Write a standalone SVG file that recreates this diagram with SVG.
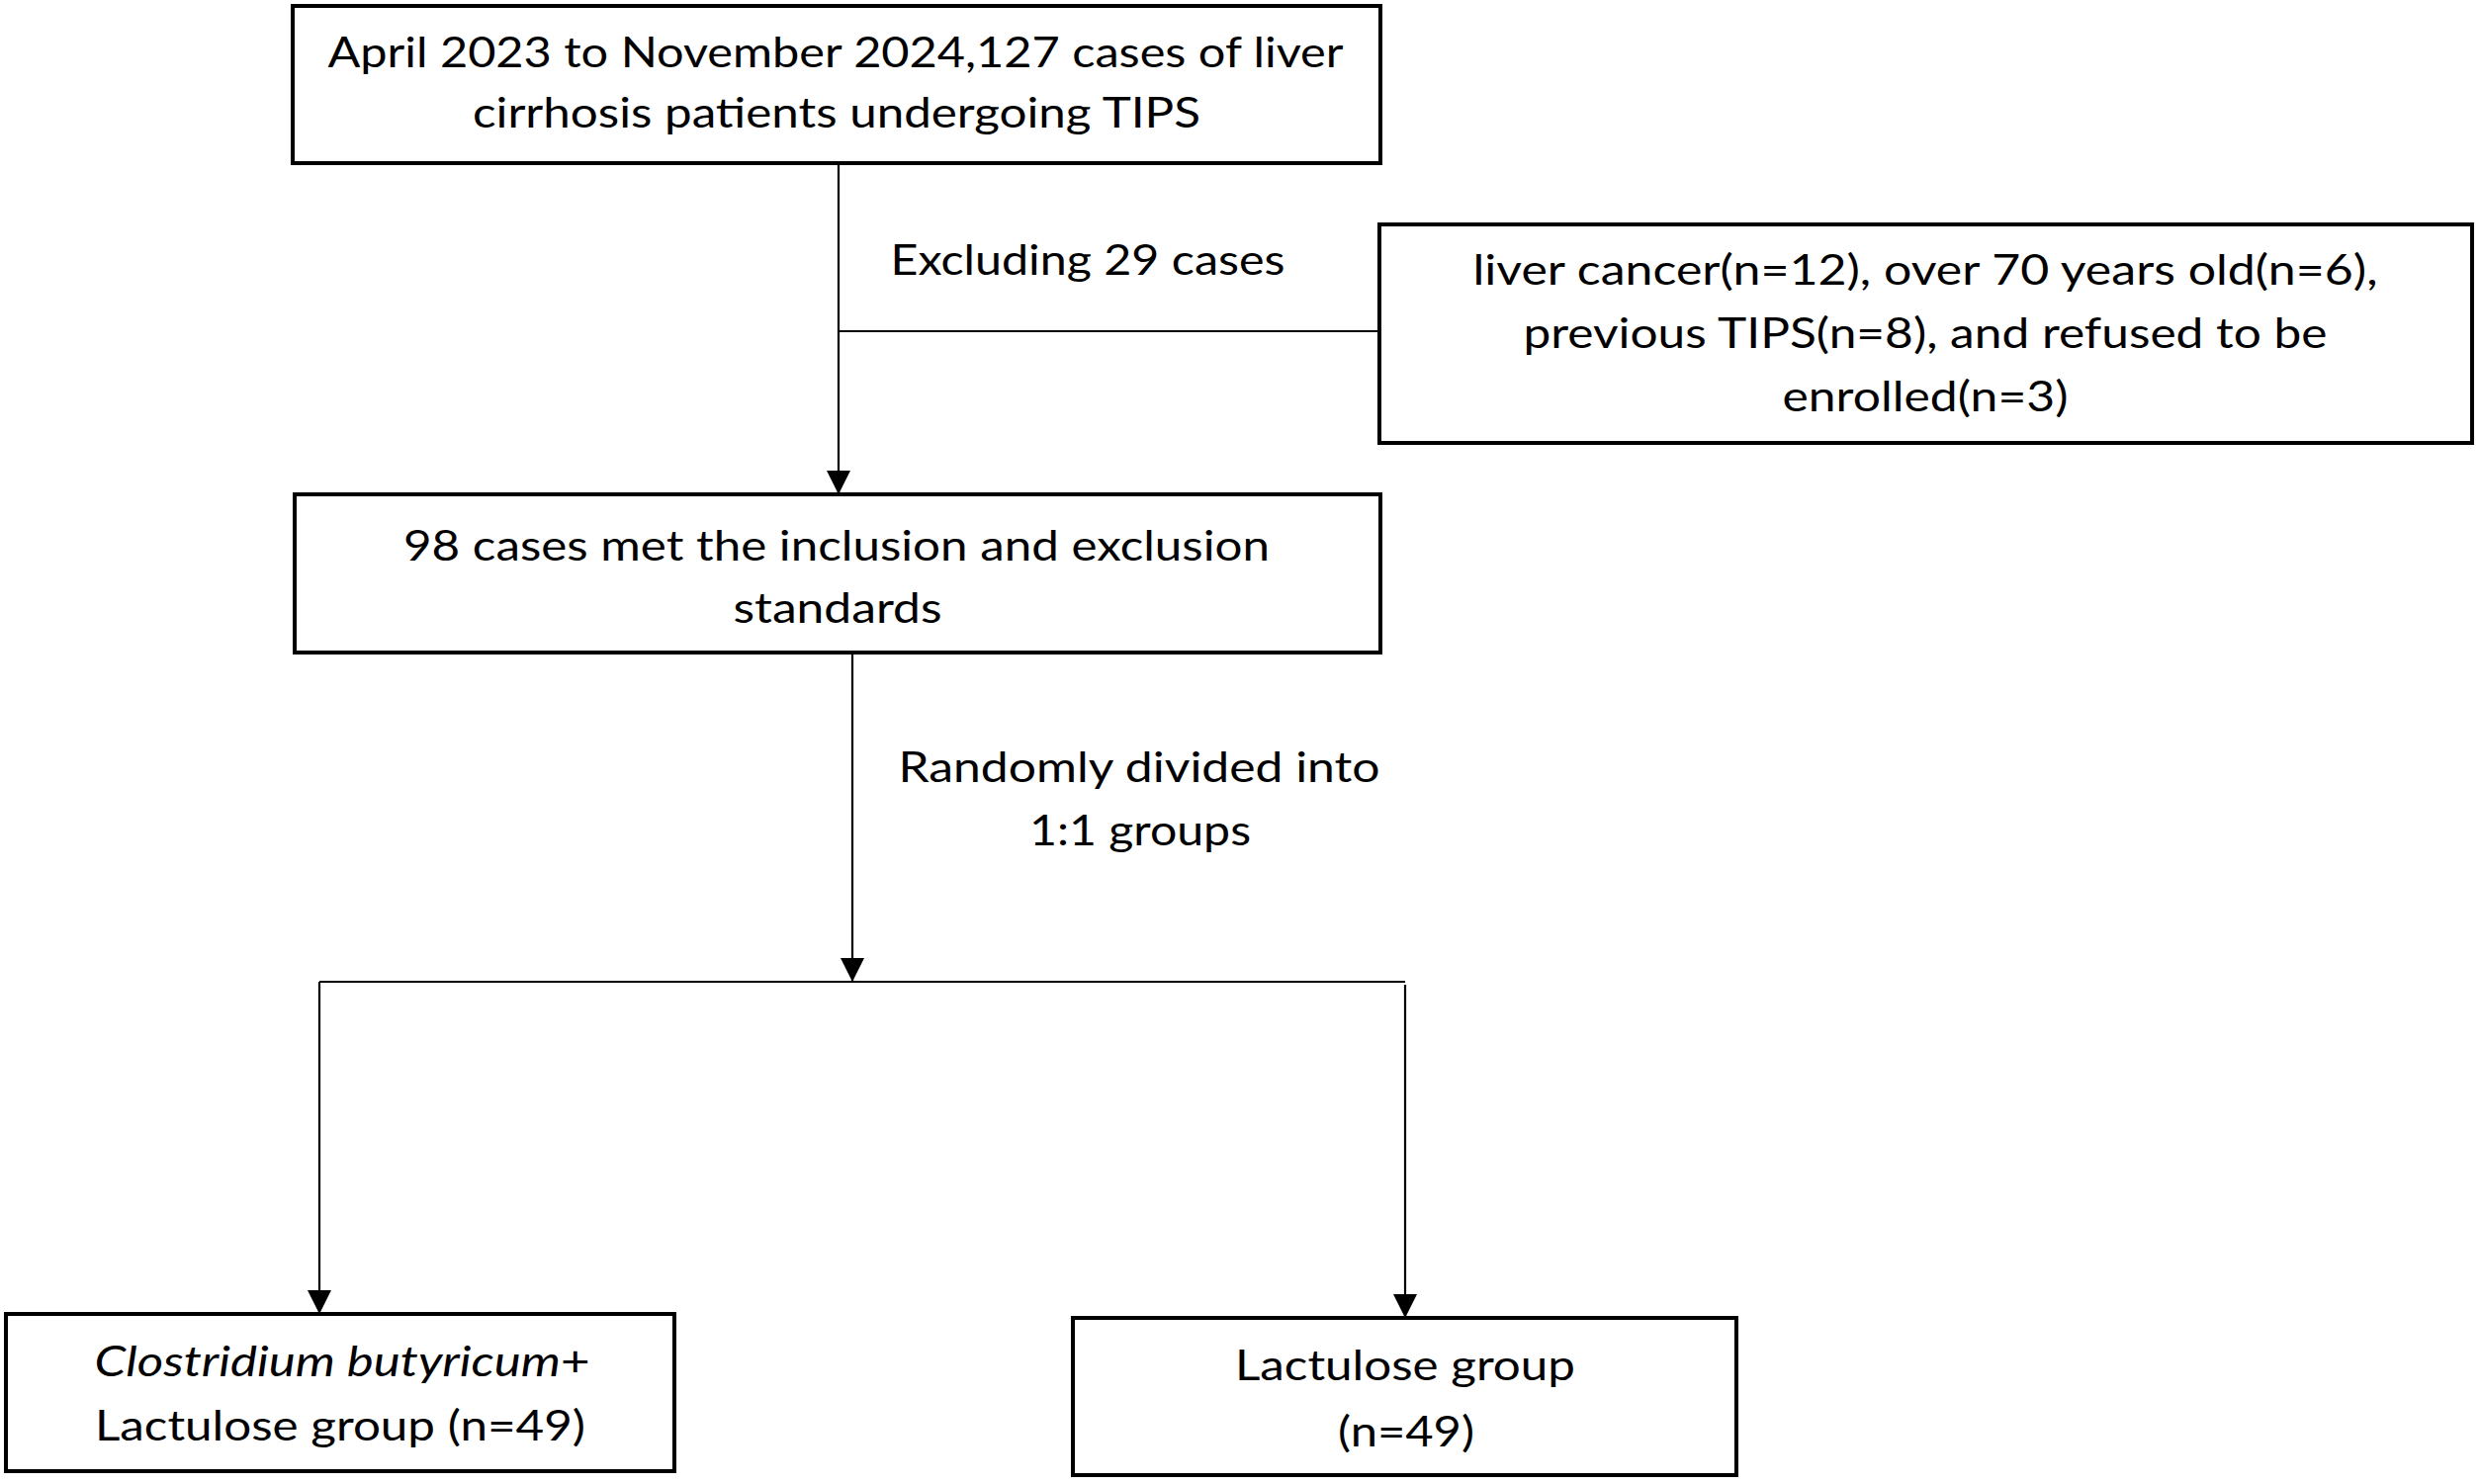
<svg xmlns="http://www.w3.org/2000/svg" width="2508" height="1501" viewBox="0 0 2508 1501">
<style>
.box{fill:#fff;stroke:#000;stroke-width:4}
.t{font-family:Lato,"Open Sans","Liberation Sans",sans-serif;font-size:43px;fill:#000;text-anchor:middle}
.c{fill:none;stroke:#000;stroke-width:2.2}
</style>
<defs>
<marker id="ah" markerUnits="userSpaceOnUse" markerWidth="24" markerHeight="24" viewBox="0 0 24 24" refX="24" refY="12" orient="auto">
<path d="M0,0 L24,12 L0,24 z" fill="#000"/>
</marker>
</defs>
<rect width="2508" height="1501" fill="#fff"/>
<g id="connectors">
<line class="c" x1="848" y1="165" x2="848" y2="500" marker-end="url(#ah)"/>
<line class="c" x1="848" y1="335" x2="1395" y2="335"/>
<line class="c" x1="862" y1="660" x2="862" y2="993" marker-end="url(#ah)"/>
<line class="c" x1="323" y1="993" x2="1421" y2="993"/>
<line class="c" x1="323" y1="993" x2="323" y2="1329" marker-end="url(#ah)"/>
<line class="c" x1="1421" y1="996" x2="1421" y2="1333" marker-end="url(#ah)"/>
</g>
<g id="n_start">
<rect class="box" x="296" y="6" width="1100" height="159"/>
<text class="t" x="845" y="68" textLength="1027" lengthAdjust="spacingAndGlyphs">April 2023 to November 2024,127 cases of liver</text>
<text class="t" x="846" y="129" textLength="736" lengthAdjust="spacingAndGlyphs">cirrhosis patients undergoing TIPS</text>
</g>
<g id="l_excluding">
<text class="t" x="1100" y="278" textLength="399" lengthAdjust="spacingAndGlyphs">Excluding 29 cases</text>
</g>
<g id="n_excluded">
<rect class="box" x="1395" y="227" width="1105" height="221"/>
<text class="t" x="1947" y="288" textLength="915" lengthAdjust="spacingAndGlyphs">liver cancer(n=12), over 70 years old(n=6),</text>
<text class="t" x="1947" y="352" textLength="813" lengthAdjust="spacingAndGlyphs">previous TIPS(n=8), and refused to be</text>
<text class="t" x="1947" y="416" textLength="289" lengthAdjust="spacingAndGlyphs">enrolled(n=3)</text>
</g>
<g id="n_included">
<rect class="box" x="298" y="500" width="1098" height="160"/>
<text class="t" x="846" y="567" textLength="876" lengthAdjust="spacingAndGlyphs">98 cases met the inclusion and exclusion</text>
<text class="t" x="847" y="630" textLength="211" lengthAdjust="spacingAndGlyphs">standards</text>
</g>
<g id="l_random">
<text class="t" x="1152" y="791" textLength="487" lengthAdjust="spacingAndGlyphs">Randomly divided into</text>
<text class="t" x="1153" y="855" textLength="224" lengthAdjust="spacingAndGlyphs">1:1 groups</text>
</g>
<g id="n_cb">
<rect class="box" x="6" y="1329" width="676" height="159"/>
<text class="t" x="346" y="1392" textLength="501" lengthAdjust="spacingAndGlyphs"><tspan font-style="italic">Clostridium butyricum</tspan>+</text>
<text class="t" x="344" y="1457" textLength="496" lengthAdjust="spacingAndGlyphs">Lactulose group (n=49)</text>
</g>
<g id="n_lac">
<rect class="box" x="1085" y="1333" width="671" height="159"/>
<text class="t" x="1421" y="1396" textLength="344" lengthAdjust="spacingAndGlyphs">Lactulose group</text>
<text class="t" x="1422" y="1463" textLength="138" lengthAdjust="spacingAndGlyphs">(n=49)</text>
</g>
</svg>
